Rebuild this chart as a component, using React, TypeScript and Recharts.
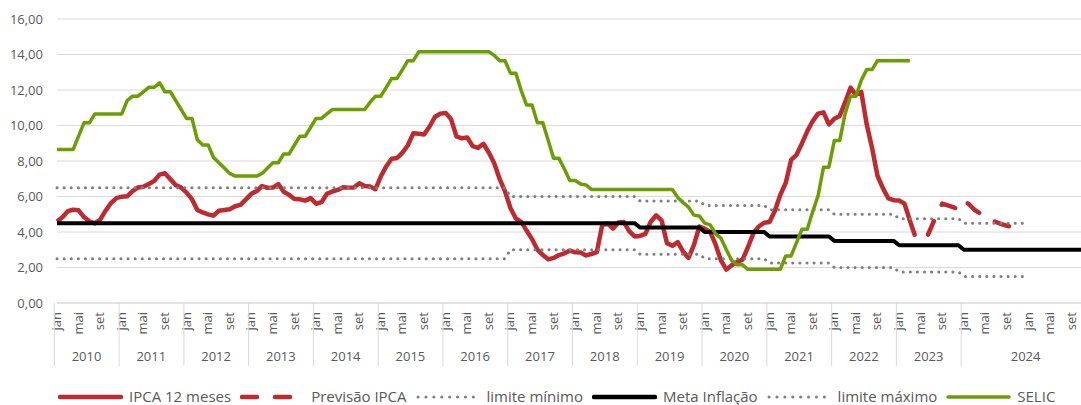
import { ComposedChart, Line, XAxis, YAxis, CartesianGrid } from "recharts";

const MESES = ["jan", "fev", "mar", "abr", "mai", "jun", "jul", "ago", "set", "out", "nov", "dez"];
const ANO_INICIAL = 2010;
// o último grupo do eixo ("2024") cobre 2024 e 2025
const ULTIMO_GRUPO = 2024;
const TOTAL_MESES = 192;

// IPCA acumulado em 12 meses, jan/2010 a mar/2023
const IPCA_12M = [
  4.59, 4.83, 5.17, 5.26, 5.22, 4.84, 4.6, 4.49, 4.7, 5.2, 5.63, 5.91,
  5.99, 6.01, 6.3, 6.51, 6.55, 6.71, 6.87, 7.23, 7.31, 6.97, 6.64, 6.5,
  6.22, 5.85, 5.24, 5.1, 4.99, 4.92, 5.2, 5.24, 5.28, 5.45, 5.53, 5.84,
  6.15, 6.31, 6.59, 6.49, 6.5, 6.7, 6.27, 6.09, 5.86, 5.84, 5.77, 5.91,
  5.59, 5.68, 6.15, 6.28, 6.37, 6.52, 6.5, 6.51, 6.75, 6.59, 6.56, 6.41,
  7.14, 7.7, 8.13, 8.17, 8.47, 8.89, 9.56, 9.53, 9.49, 9.93, 10.48, 10.67,
  10.71, 10.36, 9.39, 9.28, 9.32, 8.84, 8.74, 8.97, 8.48, 7.87, 6.99, 6.29,
  5.35, 4.76, 4.57, 4.08, 3.6, 3.0, 2.71, 2.46, 2.54, 2.7, 2.8, 2.95,
  2.86, 2.84, 2.68, 2.76, 2.86, 4.39, 4.48, 4.19, 4.53, 4.56, 4.05, 3.75,
  3.78, 3.89, 4.58, 4.94, 4.66, 3.37, 3.22, 3.43, 2.89, 2.54, 3.27, 4.31,
  4.19, 4.01, 3.3, 2.4, 1.88, 2.13, 2.31, 2.44, 3.14, 3.92, 4.31, 4.52,
  4.56, 5.2, 6.1, 6.76, 8.06, 8.35, 8.99, 9.68, 10.25, 10.67, 10.74, 10.06,
  10.38, 10.54, 11.3, 12.13, 11.73, 11.89, 10.07, 8.73, 7.17, 6.47, 5.9, 5.79,
  5.77, 5.6, 4.65,
];

// previsão, de mar/2023 (mês 158) a out/2024
const PREVISAO_INICIO = 158;
const PREVISAO_IPCA = [
  4.65, 3.75, 3.6, 3.6, 4.3, 5.0, 5.6, 5.5, 5.4, 5.28,
  5.75, 5.55, 5.25, 5.05, 4.8, 4.68, 4.55, 4.45, 4.35, 4.28,
];

// SELIC, jan/2010 a mar/2023
const SELIC = [
  8.65, 8.65, 8.65, 8.65, 9.4, 10.15, 10.15, 10.65, 10.65, 10.65, 10.65, 10.65,
  10.65, 11.4, 11.65, 11.65, 11.9, 12.15, 12.15, 12.4, 11.9, 11.9, 11.4, 10.9,
  10.4, 10.4, 9.2, 8.9, 8.9, 8.2, 7.9, 7.6, 7.3, 7.15, 7.15, 7.15,
  7.15, 7.15, 7.3, 7.6, 7.9, 7.9, 8.4, 8.4, 8.9, 9.4, 9.4, 9.9,
  10.4, 10.4, 10.65, 10.9, 10.9, 10.9, 10.9, 10.9, 10.9, 10.9, 11.3, 11.65,
  11.65, 12.15, 12.65, 12.65, 13.15, 13.65, 13.65, 14.15, 14.15, 14.15, 14.15, 14.15,
  14.15, 14.15, 14.15, 14.15, 14.15, 14.15, 14.15, 14.15, 14.15, 13.95, 13.65, 13.65,
  12.95, 12.95, 11.97, 11.15, 11.15, 10.15, 10.15, 9.15, 8.15, 8.15, 7.55, 6.9,
  6.9, 6.7, 6.65, 6.4, 6.4, 6.4, 6.4, 6.4, 6.4, 6.4, 6.4, 6.4,
  6.4, 6.4, 6.4, 6.4, 6.4, 6.4, 6.4, 5.95, 5.65, 5.4, 4.95, 4.9,
  4.5, 4.4, 3.9, 3.65, 3.0, 2.4, 2.15, 2.15, 1.9, 1.9, 1.9, 1.9,
  1.9, 1.9, 1.9, 2.65, 2.65, 3.4, 4.15, 4.15, 5.15, 6.05, 7.65, 7.65,
  9.15, 9.15, 10.65, 11.65, 11.65, 12.55, 13.15, 13.15, 13.65, 13.65, 13.65, 13.65,
  13.65, 13.65, 13.65,
];

// metas anuais, 2010 a 2025
const META_ANUAL = [4.5, 4.5, 4.5, 4.5, 4.5, 4.5, 4.5, 4.5, 4.5, 4.25, 4.0, 3.75, 3.5, 3.25, 3.0, 3.0];
// limites de tolerância, 2010 a 2024
const LIMITE_MIN_ANUAL = [2.5, 2.5, 2.5, 2.5, 2.5, 2.5, 2.5, 3.0, 3.0, 2.75, 2.5, 2.25, 2.0, 1.75, 1.5];
const LIMITE_MAX_ANUAL = [6.5, 6.5, 6.5, 6.5, 6.5, 6.5, 6.5, 6.0, 6.0, 5.75, 5.5, 5.25, 5.0, 4.75, 4.5];

const Y_TICKS = [0, 2, 4, 6, 8, 10, 12, 14, 16];

const dados = Array.from({ length: TOTAL_MESES }, (_, i) => {
  const k = Math.floor(i / 12);
  const p = i - PREVISAO_INICIO;
  return {
    i,
    mes: MESES[i % 12],
    ipca: IPCA_12M[i] ?? null,
    previsao: p >= 0 && p < PREVISAO_IPCA.length ? PREVISAO_IPCA[p] : null,
    limMin: LIMITE_MIN_ANUAL[k] ?? null,
    meta: META_ANUAL[k] ?? null,
    limMax: LIMITE_MAX_ANUAL[k] ?? null,
    selic: SELIC[i] ?? null,
  };
});

const GRUPOS = Array.from({ length: ULTIMO_GRUPO - ANO_INICIAL + 1 }, (_, k) => {
  const inicio = k * 12;
  const ano = ANO_INICIAL + k;
  return { ano, inicio, tamanho: ano === ULTIMO_GRUPO ? TOTAL_MESES - inicio : 12 };
});

const W = 1088;
const H = 405;
const MARGIN = { top: 19, right: 0, bottom: 37, left: 0 };
const Y_AXIS_W = 57;
const X_AXIS_H = 65;
const BASE = H - MARGIN.bottom - X_AXIS_H;
const BAND = (W - Y_AXIS_W - MARGIN.left - MARGIN.right) / TOTAL_MESES;

const CINZA_TEXTO = "#595959";
const CINZA_GRADE = "#D9D9D9";
const VERMELHO = "#BE2A2F";
const VERDE = "#6B9E00";
const PONTILHADO = "#7F7F7F";
const PONTOS = "0.1 7";
const TRACOS = "15 18";

const renderEixoX = (props: any) => {
  const { x, payload } = props;
  const i = Number(payload.value);
  const grupo = GRUPOS.find((g) => g.inicio === i);
  const tx = x + 4;
  const ty = BASE + 9;
  return (
    <g>
      {i % 4 === 0 && (
        <text
          x={tx}
          y={ty}
          transform={`rotate(-90 ${tx} ${ty})`}
          textAnchor="end"
          fill={CINZA_TEXTO}
          fontSize={13}
        >
          {dados[i].mes}
        </text>
      )}
      {grupo && (
        <g>
          <line x1={x - BAND / 2} x2={x - BAND / 2} y1={BASE} y2={BASE + 63} stroke={CINZA_GRADE} strokeWidth={1} />
          <text
            x={x - BAND / 2 + (grupo.tamanho * BAND) / 2}
            y={BASE + 58}
            textAnchor="middle"
            fill={CINZA_TEXTO}
            fontSize={13}
          >
            {grupo.ano}
          </text>
        </g>
      )}
    </g>
  );
};

const LEGENDA = [
  { nome: "IPCA 12 meses", cor: VERMELHO, largura: 4.5, traco: undefined },
  { nome: "Previsão IPCA", cor: VERMELHO, largura: 4.5, traco: TRACOS },
  { nome: "limite mínimo", cor: PONTILHADO, largura: 3, traco: "0.1 7.8" },
  { nome: "Meta Inflação", cor: "#000000", largura: 4.5, traco: undefined },
  { nome: "limite máximo", cor: PONTILHADO, largura: 3, traco: "0.1 7.8" },
  { nome: "SELIC", cor: VERDE, largura: 3.5, traco: undefined },
];

export default function App() {
  return (
    <div
      style={{
        position: "fixed",
        left: 0,
        top: 0,
        width: 1081,
        height: H,
        overflow: "hidden",
        background: "#fff",
        fontFamily: "'Open Sans', sans-serif",
      }}
    >
      <ComposedChart width={W} height={H} data={dados} margin={MARGIN}>
        <CartesianGrid vertical={false} stroke={CINZA_GRADE} />
        <XAxis
          dataKey="i"
          type="category"
          interval={0}
          height={X_AXIS_H}
          tickLine={false}
          axisLine={{ stroke: CINZA_GRADE }}
          tick={renderEixoX}
        />
        <YAxis
          type="number"
          width={Y_AXIS_W}
          domain={[0, 16]}
          ticks={Y_TICKS}
          interval={0}
          axisLine={false}
          tickLine={false}
          tickMargin={8}
          tick={{ fill: CINZA_TEXTO, fontSize: 13 }}
          tickFormatter={(v: number) => v.toFixed(2).replace(".", ",")}
        />
        <Line dataKey="ipca" stroke={VERMELHO} strokeWidth={4.5} strokeLinejoin="round" dot={false} activeDot={false} isAnimationActive={false} />
        <Line dataKey="previsao" stroke={VERMELHO} strokeWidth={4.5} strokeDasharray={TRACOS} strokeLinecap="round" strokeLinejoin="round" dot={false} activeDot={false} isAnimationActive={false} />
        <Line dataKey="limMin" stroke={PONTILHADO} strokeWidth={3} strokeDasharray={PONTOS} strokeLinecap="round" dot={false} activeDot={false} isAnimationActive={false} />
        <Line dataKey="meta" stroke="#000000" strokeWidth={4} strokeLinejoin="round" dot={false} activeDot={false} isAnimationActive={false} />
        <Line dataKey="limMax" stroke={PONTILHADO} strokeWidth={3} strokeDasharray={PONTOS} strokeLinecap="round" dot={false} activeDot={false} isAnimationActive={false} />
        <Line dataKey="selic" stroke={VERDE} strokeWidth={3.5} strokeLinejoin="round" dot={false} activeDot={false} isAnimationActive={false} />
      </ComposedChart>
      <div
        style={{
          position: "absolute",
          left: 58,
          top: 389,
          display: "flex",
          alignItems: "center",
          whiteSpace: "nowrap",
          fontSize: 15,
          lineHeight: "15px",
          color: CINZA_TEXTO,
        }}
      >
        {LEGENDA.map((item) => (
          <div key={item.nome} style={{ display: "flex", alignItems: "center", marginRight: 9 }}>
            <svg width={65} height={10} style={{ marginRight: 6 }}>
              <line
                x1={2}
                x2={63}
                y1={5}
                y2={5}
                stroke={item.cor}
                strokeWidth={item.largura}
                strokeDasharray={item.traco}
                strokeLinecap="round"
              />
            </svg>
            <span>{item.nome}</span>
          </div>
        ))}
      </div>
    </div>
  );
}
